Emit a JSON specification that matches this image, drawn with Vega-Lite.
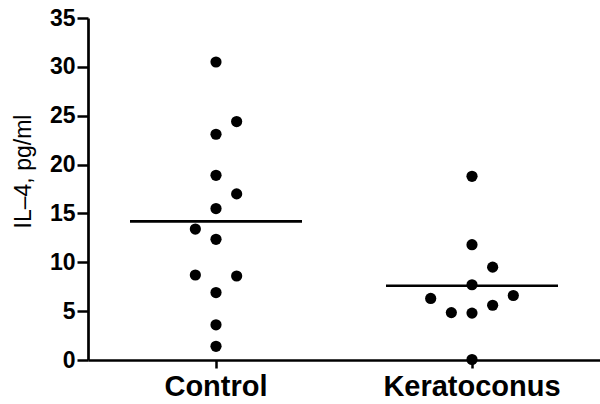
{
  "$schema": "https://vega.github.io/schema/vega-lite/v6.json",
  "width": 512,
  "height": 342,
  "autosize": {"type": "none"},
  "padding": {"left": 88, "top": 18, "right": 0, "bottom": 44},
  "background": "white",
  "config": {
    "view": {"stroke": null},
    "font": "Liberation Sans",
    "axis": {"grid": false, "domainColor": "black", "domainWidth": 2.7, "tickColor": "black", "tickWidth": 2.5, "labelColor": "black", "titleColor": "black", "labelFont": "Liberation Sans", "titleFont": "Liberation Sans"}
  },
  "data": {
    "values": [
      {"group": "Control", "value": 30.5, "slot": 0},
      {"group": "Control", "value": 24.4, "slot": 1},
      {"group": "Control", "value": 23.1, "slot": 0},
      {"group": "Control", "value": 18.9, "slot": 0},
      {"group": "Control", "value": 17.0, "slot": 1},
      {"group": "Control", "value": 15.5, "slot": 0},
      {"group": "Control", "value": 13.4, "slot": -1},
      {"group": "Control", "value": 12.35, "slot": 0},
      {"group": "Control", "value": 8.7, "slot": -1},
      {"group": "Control", "value": 8.6, "slot": 1},
      {"group": "Control", "value": 6.9, "slot": 0},
      {"group": "Control", "value": 3.6, "slot": 0},
      {"group": "Control", "value": 1.4, "slot": 0},
      {"group": "Keratoconus", "value": 18.8, "slot": 0},
      {"group": "Keratoconus", "value": 11.8, "slot": 0},
      {"group": "Keratoconus", "value": 9.5, "slot": 1},
      {"group": "Keratoconus", "value": 7.7, "slot": 0},
      {"group": "Keratoconus", "value": 6.3, "slot": -2},
      {"group": "Keratoconus", "value": 6.6, "slot": 2},
      {"group": "Keratoconus", "value": 4.85, "slot": -1},
      {"group": "Keratoconus", "value": 4.8, "slot": 0},
      {"group": "Keratoconus", "value": 5.6, "slot": 1},
      {"group": "Keratoconus", "value": 0.05, "slot": 0}
    ]
  },
  "encoding": {
    "x": {
      "field": "group", "type": "nominal", "title": null,
      "scale": {"paddingInner": 0, "paddingOuter": 0},
      "axis": {"labelAngle": 0, "labelFontSize": 29, "labelFontWeight": "bold", "tickSize": 8, "labelPadding": 4}
    },
    "y": {
      "field": "value", "type": "quantitative",
      "scale": {"domain": [0, 35], "nice": false},
      "axis": {"title": "IL–4, pg/ml", "values": [0, 5, 10, 15, 20, 25, 30, 35], "labelFontSize": 23, "labelFontWeight": "bold", "tickSize": 11, "labelPadding": 2, "titleFontSize": 23, "titleFontWeight": "normal", "titleAnchor": "middle", "titleAngle": -90, "titleBaseline": "alphabetic", "titleX": -58, "titleY": 153}
    }
  },
  "layer": [
    {
      "mark": {"type": "point", "filled": true, "shape": "circle", "size": 125, "opacity": 1, "color": "black"},
      "encoding": {
        "xOffset": {"field": "slot", "type": "quantitative", "scale": {"domain": [-2, 2], "range": [86.7, 169.3]}}
      }
    },
    {
      "mark": {"type": "tick", "size": 172, "thickness": 2.7, "color": "black", "opacity": 1},
      "encoding": {
        "y": {"aggregate": "mean", "field": "value", "type": "quantitative"}
      }
    }
  ]
}
